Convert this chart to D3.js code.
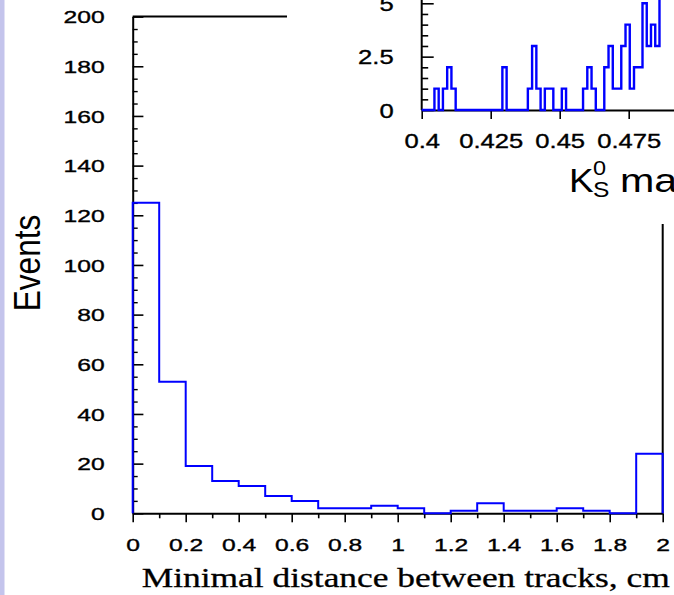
<!DOCTYPE html>
<html lang="en">
<head>
<meta charset="UTF-8">
<title>Minimal distance between tracks</title>
<script src="https://d3js.org/d3.v7.min.js"></script>
<style>
    body { margin: 0; background: #fff; }
    svg { display: block; }
</style>
</head>
<body>
<svg id="chart" width="674" height="595"></svg>
<script>
// main histogram: minimal distance between tracks (cm), 0.1 cm bins
const distBinLefts = [0, 0.1, 0.2, 0.3, 0.4, 0.5, 0.6, 0.7, 0.8, 0.9, 1.0, 1.1, 1.2, 1.3, 1.4, 1.5, 1.6, 1.7, 1.8, 1.9];
const distCounts   = [125, 53, 19, 13, 11, 7, 5, 2, 2, 3, 2, 0, 1, 4, 1, 1, 2, 1, 0, 24];
const distBinWidth = 0.1;
const distTicks = [0, 0.2, 0.4, 0.6, 0.8, 1, 1.2, 1.4, 1.6, 1.8, 2];
const distTickLabels = ["0", "0.2", "0.4", "0.6", "0.8", "1", "1.2", "1.4", "1.6", "1.8", "2"];
const distMinorTicks = [0.1, 0.3, 0.5, 0.7, 0.9, 1.1, 1.3, 1.5, 1.7, 1.9];
const eventTicks = [0, 20, 40, 60, 80, 100, 120, 140, 160, 180, 200];
const eventTickLabels = ["0", "20", "40", "60", "80", "100", "120", "140", "160", "180", "200"];
const eventMinorTicks = d3.range(5, 200, 5).filter(v => v % 20 !== 0);

// inset: K0S mass, narrow bins starting at 0.4
const massBinStart = 0.4;
const massBinWidth = 0.2 / 130;
const massCounts = [0, 0, 0, 1, 0, 1, 2, 1, 0, 0,
                    0, 0, 0, 0, 0, 0, 0, 0, 0, 2,
                    0, 0, 0, 0, 0, 1, 3, 1, 0, 1,
                    1, 0, 0, 1, 0, 0, 0, 0, 1, 2,
                    1, 0, 0, 2, 3, 1, 1, 3, 4, 1,
                    2, 2, 5, 3, 4, 3, 7, 9, 11, 14];
const massTicks = [0.4, 0.425, 0.45, 0.475];
const massTickLabels = ["0.4", "0.425", "0.45", "0.475"];
const massYTicks = [0, 2.5, 5];
const massYTickLabels = ["0", "2.5", "5"];
const massYMinorTicks = [0.5, 1, 1.5, 2, 3, 3.5, 4, 4.5, 5.5];

const svg = d3.select("#chart");
const font = "'Liberation Sans', Arial, sans-serif";
const blue = "#0000ff";

// slide edge strip
svg.append("rect").attr("x", 0).attr("y", 0).attr("width", 4.5).attr("height", 595).attr("fill", "#c4c4ec");

// ---------- main plot ----------
const x = d3.scaleLinear().domain([0, 2]).range([132.7, 662.7]);
const y = d3.scaleLinear().domain([0, 200]).range([513.3, 16.6]);

function styleLabels(g, size, sx, tx, ty, anchor) {
    g.attr("font-family", null).attr("font-size", null);
    g.selectAll("text")
        .attr("x", 0).attr("y", 0)
        .attr("dy", anchor === "end" ? "0.36em" : "0.71em")
        .attr("text-anchor", anchor)
        .attr("font-family", font)
        .attr("font-size", size)
        .attr("fill", "#000")
        .attr("stroke", "#000").attr("stroke-width", 0.35)
        .attr("transform", `translate(${tx},${ty}) scale(${sx},1)`);
    g.selectAll(".tick line").attr("stroke", "#000").attr("stroke-width", 1.6);
}

// frame (top and right)
svg.append("path")
    .attr("d", `M${x(0)},${y(200)}H${x(2)}V${y(0)}`)
    .attr("fill", "none").attr("stroke", "#000").attr("stroke-width", 2);

// y axis
svg.append("g")
    .attr("transform", `translate(${x(0)},0)`)
    .call(d3.axisLeft(y).tickValues(eventMinorTicks).tickSizeInner(-5).tickSizeOuter(0).tickFormat(""))
    .call(g => g.select(".domain").remove())
    .call(g => g.selectAll("line").attr("stroke", "#000").attr("stroke-width", 1.4));
svg.append("g")
    .attr("transform", `translate(${x(0)},0)`)
    .call(d3.axisLeft(y).tickValues(eventTicks).tickSizeInner(-10.7).tickSizeOuter(0)
        .tickFormat((d, i) => eventTickLabels[i]))
    .call(g => g.select(".domain").attr("stroke", "#000").attr("stroke-width", 2))
    .call(g => styleLabels(g, 17, 1.45, -28, 0, "end"));

// x axis
svg.append("g")
    .attr("transform", `translate(0,${y(0)})`)
    .call(d3.axisBottom(x).tickValues(distMinorTicks).tickSizeInner(5).tickSizeOuter(0).tickFormat(""))
    .call(g => g.select(".domain").remove())
    .call(g => g.selectAll("line").attr("stroke", "#000").attr("stroke-width", 1.6));
svg.append("g")
    .attr("transform", `translate(0,${y(0)})`)
    .call(d3.axisBottom(x).tickValues(distTicks).tickSizeInner(9).tickSizeOuter(0)
        .tickFormat((d, i) => distTickLabels[i]))
    .call(g => g.select(".domain").attr("stroke", "#000").attr("stroke-width", 2))
    .call(g => styleLabels(g, 17, 1.45, 0, 26, "middle"));

// histogram outline
function stepPoints(lefts, counts, width) {
    const pts = [[lefts[0], 0]];
    lefts.forEach((l, i) => {
        pts.push([l, counts[i]]);
        pts.push([l + width, counts[i]]);
    });
    pts.push([lefts[lefts.length - 1] + width, 0]);
    return pts;
}
svg.append("path")
    .attr("d", d3.line().x(d => x(d[0])).y(d => y(d[1]))(stepPoints(distBinLefts, distCounts, distBinWidth)))
    .attr("fill", "none").attr("stroke", blue).attr("stroke-width", 2);

// axis titles
svg.append("text")
    .attr("transform", "translate(39.5,263) rotate(-90) scale(1.02,1.2)")
    .attr("text-anchor", "middle")
    .attr("font-family", font).attr("font-size", 31)
    .text("Events");
svg.append("text")
    .attr("x", 141.7).attr("y", 587)
    .attr("textLength", 528).attr("lengthAdjust", "spacingAndGlyphs")
    .attr("font-family", "'Liberation Serif', 'Times New Roman', serif").attr("font-size", 27)
    .attr("stroke", "#000").attr("stroke-width", 0.3)
    .text("Minimal distance between tracks, cm");

// ---------- inset ----------
svg.append("rect").attr("x", 287).attr("y", 0).attr("width", 387).attr("height", 224).attr("fill", "#fff");

const xi = d3.scaleLinear().domain([0.4, 0.6]).range([421.7, 973.7]);
const yi = d3.scaleLinear().domain([0, 5]).range([110, 3.3]);

svg.append("g")
    .attr("transform", `translate(${xi(0.4)},0)`)
    .call(d3.axisLeft(yi).tickValues(massYMinorTicks).tickSizeInner(-6.5).tickSizeOuter(0).tickFormat(""))
    .call(g => g.select(".domain").remove())
    .call(g => g.selectAll("line").attr("stroke", "#000").attr("stroke-width", 1.6));
svg.append("g")
    .attr("transform", `translate(${xi(0.4)},0)`)
    .call(d3.axisLeft(yi).tickValues(massYTicks).tickSizeInner(-12).tickSizeOuter(0)
        .tickFormat((d, i) => massYTickLabels[i]))
    .call(g => g.select(".domain").remove())
    .call(g => styleLabels(g, 20, 1.28, -28, 0, "end"));
svg.append("line")
    .attr("x1", xi(0.4)).attr("x2", xi(0.4)).attr("y1", yi(0)).attr("y2", yi(6))
    .attr("stroke", "#000").attr("stroke-width", 2);

svg.append("g")
    .attr("transform", `translate(0,${yi(0)})`)
    .call(d3.axisBottom(xi).tickValues(massTicks).tickSizeInner(9).tickSizeOuter(0)
        .tickFormat((d, i) => massTickLabels[i]))
    .call(g => g.select(".domain").attr("stroke", "#000").attr("stroke-width", 2))
    .call(g => styleLabels(g, 20, 1.28, 0, 23.5, "middle"));

const massLefts = massCounts.map((c, i) => massBinStart + i * massBinWidth);
svg.append("path")
    .attr("d", d3.line().x(d => xi(d[0])).y(d => yi(d[1]))(stepPoints(massLefts, massCounts, massBinWidth)))
    .attr("fill", "none").attr("stroke", blue).attr("stroke-width", 2.4);

// inset x title: K0S mass (sub/superscript stacked after K)
const kt = svg.append("text")
    .attr("font-family", font).attr("fill", "#000")
    .attr("transform", "translate(569,191.7) scale(1.12,1)");
kt.append("tspan").attr("x", 0).attr("y", 0).attr("font-size", 33).text("K");
kt.append("tspan").attr("x", 21.5).attr("y", -16.7).attr("font-size", 21).text("0");
kt.append("tspan").attr("x", 21.5).attr("y", 5).attr("font-size", 22).text("S");
svg.append("text")
    .attr("font-family", font).attr("fill", "#000").attr("font-size", 33)
    .attr("transform", "translate(620,191.7) scale(1.25,1)")
    .text("mass, GeV");
</script>
</body>
</html>
